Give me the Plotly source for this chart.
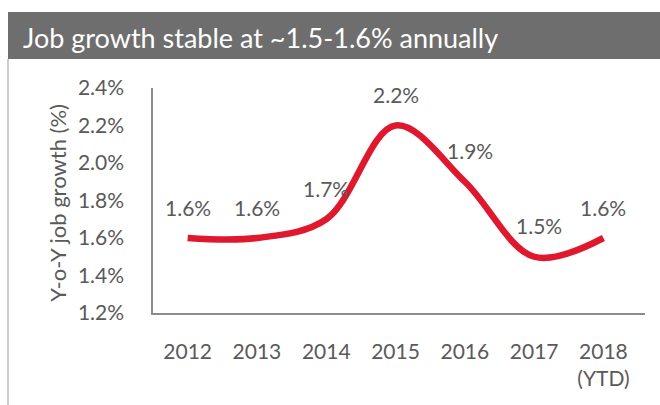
import plotly.graph_objects as go

# Year-over-year job growth (%)
years = ["2012", "2013", "2014", "2015", "2016", "2017", "2018<br>(YTD)"]
growth = [1.6, 1.6, 1.7, 2.2, 1.9, 1.5, 1.6]
y_ticks = [1.2, 1.4, 1.6, 1.8, 2.0, 2.2, 2.4]
title_text = "Job growth stable at ~1.5-1.6% annually"
y_title = "Y-o-Y job growth (%)"

W, H = 660, 405
L, R, T, B = 153, 15, 88, 92
PW, PH = W - L - R, H - T - B
FONT = "Lato"
GREY_TXT = "#5a5a5a"


def px_x(p):
    return (p - L) / PW


def px_y(p):
    return (H - B - p) / PH


fig = go.Figure()
fig.add_trace(go.Scatter(
    x=list(range(len(years))), y=growth, mode="lines",
    line=dict(color="#e0182d", width=6.5, shape="spline", smoothing=1.0),
    hoverinfo="skip", showlegend=False,
))

# value labels above each point
for i, v in enumerate(growth):
    fig.add_annotation(
        x=i, y=v, text=f"{v:.1f}%", showarrow=False, yshift=31,
        xshift=5 if i in (4, 5) else 0,
        font=dict(family=FONT, size=21, color=GREY_TXT),
    )

# header bar
fig.add_shape(type="rect", xref="paper", yref="paper",
              x0=px_x(8), x1=px_x(W + 5), y0=px_y(59), y1=px_y(12),
              fillcolor="#6e6e6e", line=dict(width=0), layer="below")
# frame line on the left
fig.add_shape(type="line", xref="paper", yref="paper",
              x0=px_x(8), x1=px_x(8), y0=px_y(59), y1=px_y(H + 5),
              line=dict(color="#bdbdbd", width=1.5))
fig.add_annotation(xref="paper", yref="paper", x=px_x(21), y=px_y(38),
                   xanchor="left", yanchor="middle", showarrow=False,
                   text=title_text, font=dict(family=FONT, size=27, color="white"))
fig.add_annotation(xref="paper", yref="paper", x=px_x(58), y=0.49,
                   xanchor="center", yanchor="middle", showarrow=False,
                   textangle=-90, text=y_title,
                   font=dict(family=FONT, size=22, color=GREY_TXT))

fig.update_layout(
    width=W, height=H, margin=dict(l=L, r=R, t=T, b=B),
    paper_bgcolor="white", plot_bgcolor="white",
    font=dict(family=FONT, color=GREY_TXT),
    xaxis=dict(
        range=[-0.5, 6.6], tickmode="array", tickvals=list(range(len(years))),
        ticktext=years, showgrid=False, zeroline=False,
        showline=True, linecolor="#8c8c8c", linewidth=1.5,
        ticks="", ticklabelstandoff=19,
        tickfont=dict(family=FONT, size=21, color=GREY_TXT),
    ),
    yaxis=dict(
        range=[1.2, 2.4], tickmode="array", tickvals=y_ticks,
        ticktext=[f"{t:.1f}%" for t in y_ticks], showgrid=False, zeroline=False,
        showline=True, linecolor="#8c8c8c", linewidth=1.5,
        ticks="", ticklabelstandoff=23,
        tickfont=dict(family=FONT, size=21, color=GREY_TXT),
    ),
)

fig.write_html("out.html")
